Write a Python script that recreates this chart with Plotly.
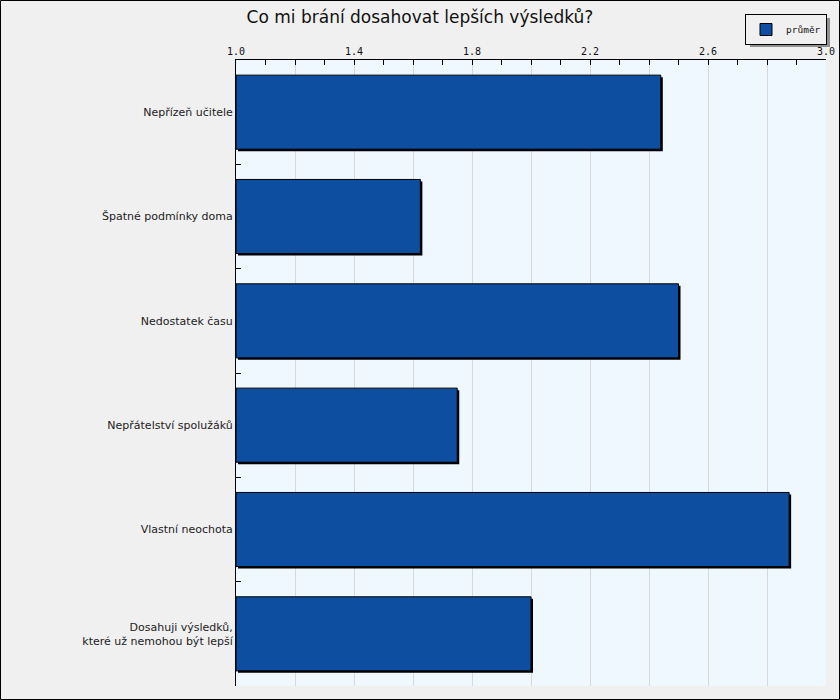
import plotly.graph_objects as go

categories = [
    "Nepřízeň učitele",
    "Špatné podmínky doma",
    "Nedostatek času",
    "Nepřátelství spolužáků",
    "Vlastní neochota",
    "Dosahuji výsledků,<br>které už nemohou být lepší",
]
prumer = [2.44, 1.625, 2.50, 1.75, 2.875, 2.0]

tick_vals = [1.0, 1.2, 1.4, 1.6, 1.8, 2.0, 2.2, 2.4, 2.6, 2.8, 3.0]
tick_text = ["1.0", "", "1.4", "", "1.8", "", "2.2", "", "2.6", "", "3.0"]

W, H = 840, 700
L, R, T, B = 236, 14, 60, 14
pw, ph = W - L - R, H - T - B


def px_x(p):
    return (p - L) / pw


def px_y(p):
    return (H - B - p) / ph


BAR_W = 0.71
sx = 2 / pw * 2.0   # ~2px shadow in data units (x)
sy = 2 / (ph / 6)   # ~2px shadow in category units (y)

fig = go.Figure()

# shadow behind bars
fig.add_trace(go.Bar(
    x=[v - 1 for v in prumer], y=categories, base=1 + sx, orientation="h",
    width=BAR_W, offset=-BAR_W / 2 + sy,
    marker=dict(color="black", line=dict(width=0)),
    showlegend=False, hoverinfo="skip",
))

fig.add_trace(go.Bar(
    x=[v - 1 for v in prumer], y=categories, base=1, orientation="h",
    width=BAR_W, offset=-BAR_W / 2,
    name="průměr",
    marker=dict(color="#0d4ea0", line=dict(color="black", width=1)),
))

fig.update_layout(
    width=W, height=H,
    margin=dict(l=L, r=R, t=T, b=B, autoexpand=False),
    paper_bgcolor="#f0f0f0",
    plot_bgcolor="#eff7ff",
    barmode="overlay",
    font=dict(family="DejaVu Sans", size=11, color="#222222"),
    title=dict(
        text="Co mi brání dosahovat lepších výsledků?",
        x=0.5, xanchor="center", y=1 - 17 / H, yanchor="middle",
        font=dict(family="DejaVu Sans", size=17, color="#111111"),
    ),
    legend=dict(
        x=px_x(827), y=px_y(14), xanchor="right", yanchor="top",
        bgcolor="#f0f0f0", bordercolor="black", borderwidth=1,
        font=dict(family="DejaVu Sans Mono", size=9.5, color="#111111"),
        itemwidth=30, tracegroupgap=0,
    ),
    xaxis=dict(
        side="top", range=[1.0, 3.0],
        tickvals=tick_vals, ticktext=tick_text,
        ticks="inside", ticklen=5, tickcolor="black",
        tickfont=dict(family="DejaVu Sans Mono", size=10, color="#111111"),
        showgrid=True, gridcolor="#d8d8d8", gridwidth=1,
        showline=True, linecolor="black", linewidth=1,
        zeroline=False,
        minor=dict(dtick=0.1, ticks="inside", ticklen=5, tickcolor="black", showgrid=False),
    ),
    yaxis=dict(
        autorange="reversed",
        ticks="inside", ticklen=5, tickcolor="black", tickson="boundaries",
        showline=True, linecolor="black", linewidth=1,
        showgrid=False,
    ),
    shapes=[
        # outer frame
        dict(type="rect", xref="paper", yref="paper",
             x0=px_x(0.5), x1=px_x(W - 0.5), y0=px_y(H - 0.5), y1=px_y(0.5),
             line=dict(color="black", width=1), fillcolor="rgba(0,0,0,0)"),
        # legend drop shadow
        dict(type="rect", xref="paper", yref="paper",
             x0=px_x(750), x1=px_x(830), y0=px_y(47), y1=px_y(18),
             line=dict(width=0), fillcolor="#909090"),
    ],
)

fig.write_html("out.html", config={"displayModeBar": False})

# drop the default body margin so the figure sits at the page origin
with open("out.html", encoding="utf-8") as f:
    page = f.read()
page = page.replace("<body>", '<body style="margin:0;overflow:hidden">', 1)
with open("out.html", "w", encoding="utf-8") as f:
    f.write(page)
